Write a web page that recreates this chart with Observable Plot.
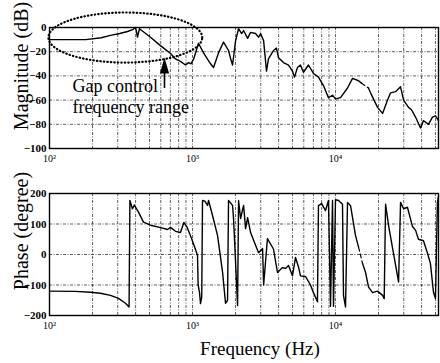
<!DOCTYPE html>
<html><head><meta charset="utf-8">
<script src="https://cdn.jsdelivr.net/npm/d3@7"></script>
<script src="https://cdn.jsdelivr.net/npm/@observablehq/plot@0.6"></script>
<style>
body{margin:0;background:#fff}
#wrap{position:relative;width:440px;height:363px;background:#fff;overflow:hidden}
#wrap svg{position:absolute;left:0;overflow:visible}
</style></head><body><div id="wrap"></div>
<script>
// ---- data ----
const magFreq = [100,179,230,267,310,351,385,399,405,412,426,508,597,702,760,824,893,940,975,1020,1101,1194,1337,1403,1520,1648,1786,1850,1906,2000,2099,2205,2276,2428,2547,2760,2898,2993,3143,3292,3398,3683,3866,3993,4327,4690,5000,5165,5418,5686,5968,6468,7010,7598,8235,8925,9529,10000,10836,12133,13150,14490,15200,16000,17000,17580,19680,21330,23120,24270,26300,28500,29920,32400,34000,36260,39300,41200,44650,47650,50000,52500];
const magDb   = [-10,-10,-8.5,-6.5,-5,-3.3,-1.5,0,-3,-8,-1,-8,-15,-21.5,-26,-28,-31,-29,-30,-26,-13,-21,-30,-33,-21,-12,-19,-26,-31,-11,-1,-5,-2.5,-9,-4,-5,-8,-5,-11,-36,-26,-19,-17,-25,-29,-31,-36,-41,-33,-31,-37,-31,-38,-41,-48,-58,-56,-59,-58,-50,-42,-44,-46,null,-50,-54,-66,-71,-60,-54,-53,-49,-60,-66,-68,-74,-83,-77,-80,-74,-73,-77];

const phFreq = [100,150,194,227,267,304,340,360,365,380,392,419,454,508,600,668,702,760,824,870,920,980,1016,1084,1095,1120,1137,1160,1175,1220,1274,1295,1381,1497,1622,1702,1758,1786,1906,1936,2066,2099,2169,2276,2350,2428,2547,2760,2898,3090,3143,3342,3508,3683,3928,4256,4467,4690,5000,5248,5508,5686,6166,6683,7010,7478,7600,8000,8511,8925,9226,9529,9683,10000,10500,11190,11370,11750,12133,12740,13800,14490,15000,15450,16220,17020,18160,19680,21330,21900,22390,23500,25460,27600,28500,29920,31840,34510,36260,38020,41200,43950,46100,48450,50000,51600,52500];
const phDeg  = [-120,-121,-124,-127,-134,-144,-160,-172,177,150,162,139,106,96,88,82,89,76,72,105,88,55,35,-3,-100,-125,-161,-140,177,175,161,177,128,62,-58,-160,-150,177,161,118,-167,177,118,161,85,121,72,30,6,20,-100,52,35,18,-59,-43,-46,-36,-70,-10,-40,-70,-72,-100,-125,-155,160,167,144,177,-170,177,-170,180,177,165,-134,-172,171,160,62,24,null,-29,-59,-107,-125,-120,-134,-145,165,95,3,-90,171,150,155,92,80,50,45,5,-30,-124,-144,171,190];

const xDomain = [100, 52500];
const xTicks = [100, 1000, 10000];
const xTickText = ["10\u00b2", "10\u00b3", "10\u2074"];
const gridFreq = [200,300,400,500,600,700,800,900,1000,2000,3000,4000,5000,6000,7000,8000,9000,10000,20000,30000,40000,50000];
const magTicks = [0,-20,-40,-60,-80,-100];
const magGrid = [-20,-40,-60,-80];
const phTicks = [200,100,0,-100,-200];
const phGrid = [100,0,-100];

// annotation (data coordinates)
const ellipseCenter = [339, -8.3];     // Hz, dB
const ellipseRadius = [0.538, 20.7];   // decades, dB
const arrowFreq = 637;
const arrowShaft = [-38, -50.4];
const arrowHead = -31.4;
const noteFreq = 145;
const noteDb = -71;
const noteText = "Gap control\nfrequency range";

const mag = magFreq.map((f,i)=>({f, v: magDb[i]}));
const ph = phFreq.map((f,i)=>({f, v: phDeg[i]}));
// faint dashed bridges across the gaps of the traces
const bridge = (rows) => { const i = rows.findIndex(r => r.v == null); return i > 0 ? [rows[i-1], rows[i+1]] : []; };
const ellipse = d3.range(0, 361, 4).map(a => {
  const t = a*Math.PI/180;
  return {f: Math.pow(10, Math.log10(ellipseCenter[0]) + ellipseRadius[0]*Math.cos(t)),
          v: ellipseCenter[1] + ellipseRadius[1]*Math.sin(t)};
});
const tri = {draw(ctx){ ctx.moveTo(0,-8); ctx.lineTo(4.6,8); ctx.lineTo(-4.6,8); ctx.closePath(); }};
const fmt = d => xTickText[xTicks.indexOf(d)];
const font = "'Liberation Serif', 'Times New Roman', serif";
const gridStyle = {stroke:"#000", strokeDasharray:"3,1.5,1,1.5", strokeWidth:0.8, strokeOpacity:0.8};

const topPlot = Plot.plot({
  width: 440, height: 170, marginTop: 27, marginBottom: 22, marginLeft: 49, marginRight: 2,
  x: {type: "log", domain: xDomain},
  y: {domain: [-100, 0]},
  style: {fontFamily: font, background: "transparent", color: "black"},
  marks: [
    Plot.ruleX(gridFreq, {x: d=>d, ...gridStyle}),
    Plot.ruleY(magGrid, {y: d=>d, ...gridStyle}),
    Plot.frame({stroke: "black", strokeWidth: 1.4}),
    Plot.axisY({ticks: magTicks, tickSize: 0, tickPadding: 3, fontSize: 11, fontWeight: "bold", label: null}),
    Plot.axisX({ticks: xTicks, tickFormat: fmt, tickSize: 0, tickPadding: 6, fontSize: 10, label: null}),
    Plot.line(mag, {x: "f", y: "v", stroke: "black", strokeWidth: 1.4}),
    Plot.line(bridge(mag), {x: "f", y: "v", stroke: "black", strokeWidth: 1.2, strokeDasharray: "4,3"}),
    Plot.line(ellipse, {x: "f", y: "v", stroke: "black", strokeWidth: 2.2, strokeDasharray: "0.5,3", strokeLinecap: "round"}),
    Plot.ruleX([arrowFreq], {x: d=>d, y1: arrowShaft[0], y2: arrowShaft[1], stroke: "black", strokeWidth: 1.6}),
    Plot.dot([arrowFreq], {x: d=>d, y: arrowHead, symbol: tri, fill: "black", stroke: null}),
    Plot.text([noteText], {x: noteFreq, y: noteDb, text: d=>d, textAnchor: "start", lineAnchor: "bottom", lineHeight: 1.17, fontSize: 18, fill: "black"})
  ]
});

const botPlot = Plot.plot({
  width: 440, height: 193, marginTop: 23, marginBottom: 48, marginLeft: 49, marginRight: 2,
  x: {type: "log", domain: xDomain},
  y: {domain: [-200, 200]},
  style: {fontFamily: font, background: "transparent", color: "black"},
  marks: [
    Plot.ruleX(gridFreq, {x: d=>d, ...gridStyle}),
    Plot.ruleY(phGrid, {y: d=>d, ...gridStyle}),
    Plot.frame({stroke: "black", strokeWidth: 1.4}),
    Plot.axisY({ticks: phTicks, tickSize: 0, tickPadding: 3, fontSize: 11, fontWeight: "bold", label: null}),
    Plot.axisX({ticks: xTicks, tickFormat: fmt, tickSize: 0, tickPadding: 6, fontSize: 10, label: null}),
    Plot.line(ph, {x: "f", y: "v", stroke: "black", strokeWidth: 1.4}),
    Plot.line(bridge(ph), {x: "f", y: "v", stroke: "black", strokeWidth: 1.2, strokeDasharray: "4,3"})
  ]
});

const wrap = document.getElementById("wrap");
topPlot.style.top = "0px";
botPlot.style.top = "170px";
wrap.appendChild(topPlot);
wrap.appendChild(botPlot);

// axis titles
const titles = d3.create("svg").attr("width", 440).attr("height", 363).style("top", "0px")
  .style("font-family", font).style("pointer-events", "none");
titles.append("text").attr("transform", "translate(28,66) rotate(-90)").attr("text-anchor", "middle")
  .attr("font-size", 20).text("Magnitude (dB)");
titles.append("text").attr("transform", "translate(28,231) rotate(-90)").attr("text-anchor", "middle")
  .attr("font-size", 20).text("Phase (degree)");
titles.append("text").attr("x", 260).attr("y", 355).attr("text-anchor", "middle")
  .attr("font-size", 19).text("Frequency (Hz)");
wrap.appendChild(titles.node());
</script></body></html>
